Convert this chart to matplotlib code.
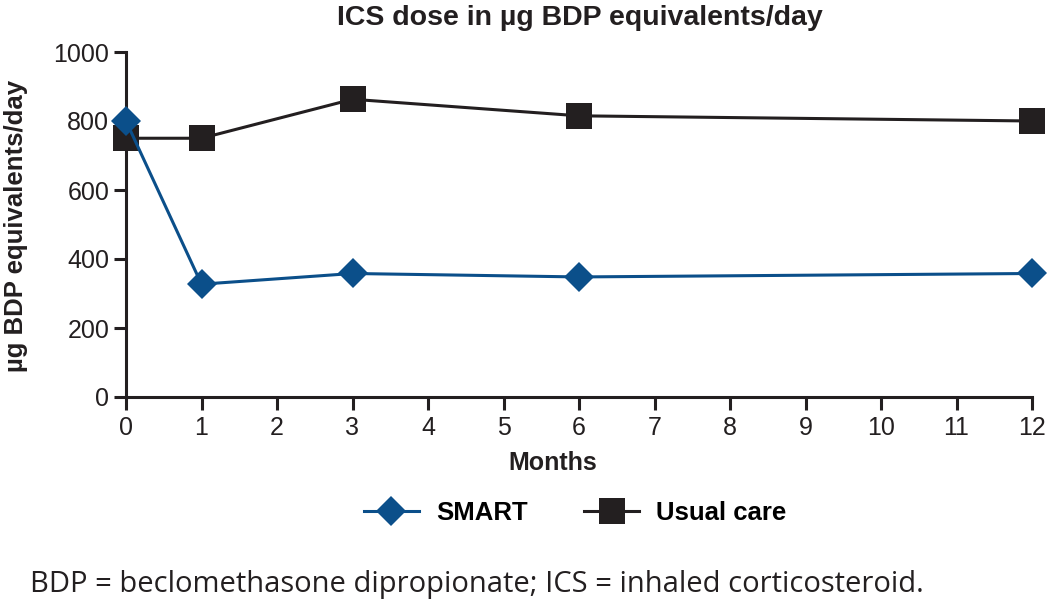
import matplotlib
matplotlib.use("Agg")
import matplotlib.pyplot as plt
from matplotlib.lines import Line2D

months = [0, 1, 3, 6, 12]
smart = [800, 327, 358, 348, 358]
usual_care = [750, 750, 863, 815, 800]
x_ticks = list(range(0, 13))
y_ticks = [0, 200, 400, 600, 800, 1000]

title = "ICS dose in µg BDP equivalents/day"
ylabel = "µg BDP equivalents/day"
xlabel = "Months"
footnote = "BDP = beclomethasone dipropionate; ICS = inhaled corticosteroid."

blue = "#0b4f8a"
black = "#231f20"

plt.rcParams['font.family'] = ['Liberation Sans', 'DejaVu Sans']

W, H = 1050, 599
fig = plt.figure(figsize=(W / 100, H / 100), dpi=100)
ax = fig.add_axes([126 / W, 1 - 397 / H, 906 / W, 345 / H])

ax.plot(months, usual_care, color=black, lw=2.2, marker='s', ms=19, mew=0,
        clip_on=False, zorder=3)
ax.plot(months, smart, color=blue, lw=2.2, marker='D', ms=15, mew=0,
        clip_on=False, zorder=4)

ax.set_xlim(0, 12)
ax.set_ylim(0, 1000)
ax.set_xticks(x_ticks)
ax.set_yticks(y_ticks)
for s in ['top', 'right']:
    ax.spines[s].set_visible(False)
for s in ['left', 'bottom']:
    ax.spines[s].set_linewidth(2.2)
    ax.spines[s].set_color(black)
ax.tick_params(axis='both', width=2.2, length=9, color=black, labelsize=18,
               labelcolor=black)
ax.tick_params(axis='x', pad=5)
ax.tick_params(axis='y', pad=3)

fig.text(580 / W, 1 - 25 / H, title, fontsize=20.5, fontweight='bold',
         color=black, ha='center', va='baseline')

ax.set_xlabel(xlabel, fontsize=18, fontweight='bold', color=black)
ax.xaxis.label.set_va('baseline')
ax.xaxis.set_label_coords((553 - 126) / 906, (397 - 470) / 345)

ax.set_ylabel(ylabel, fontsize=18.5, fontweight='bold', color=black)
ax.yaxis.label.set_va('center')
ax.yaxis.set_label_coords((16 - 126) / 906, 0.495)

handles = [Line2D([], [], color=blue, lw=2.2, marker='D', ms=15, mew=0),
           Line2D([], [], color=black, lw=2.2, marker='s', ms=19, mew=0)]
fig.legend(handles, ["SMART", "Usual care"], loc='center',
           bbox_to_anchor=(575 / W, 1 - 513 / H), ncol=2, frameon=False,
           prop={'weight': 'bold', 'size': 18.5}, handlelength=2.15,
           columnspacing=2.2, handletextpad=0.65)

fig.text(30 / W, 1 - 592 / H, footnote, fontsize=21, color=black,
         family=['Open Sans', 'DejaVu Sans'], va='baseline', ha='left')

fig.savefig("out.png", dpi=100)
